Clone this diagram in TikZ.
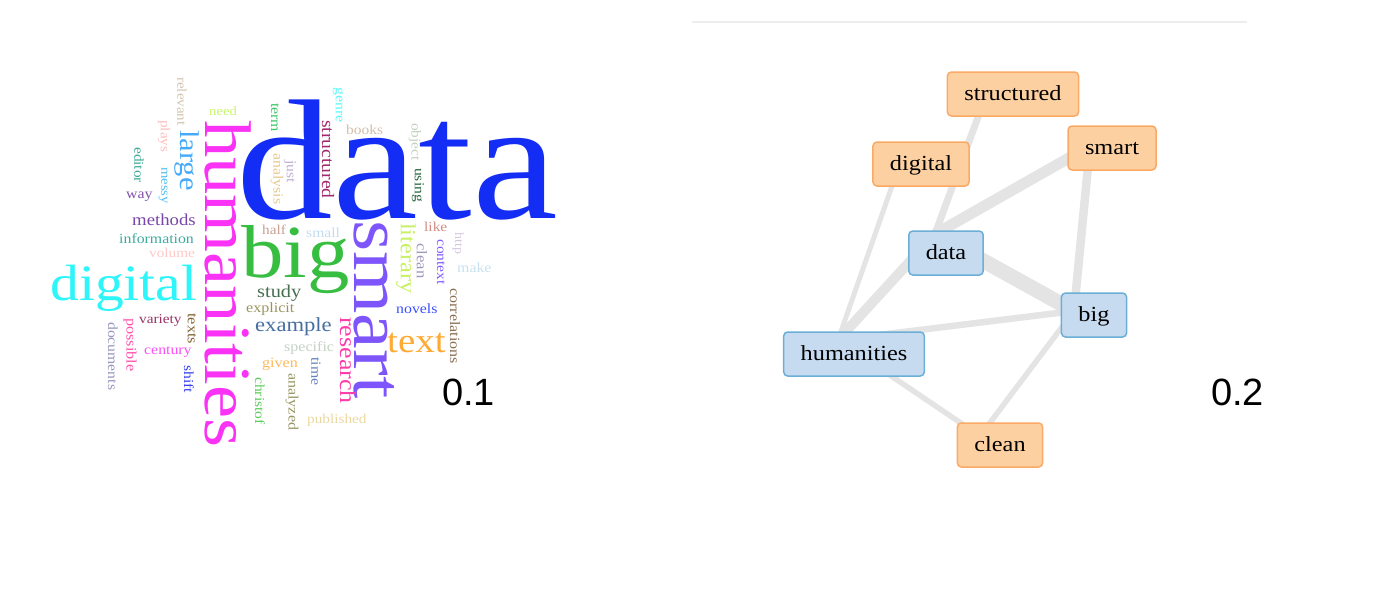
\documentclass[tikz,border=0pt]{standalone}
\usepackage{fontspec}
\setmainfont[FakeStretch=1.13]{Liberation Serif}
\newfontfamily\scorefont{Liberation Sans}
\usepackage{xcolor}
\usetikzlibrary{positioning, backgrounds}

% word cloud colours
\definecolor{cData}{RGB}{20,45,245}
\definecolor{cHuman}{RGB}{250,50,245}
\definecolor{cBig}{RGB}{55,190,65}
\definecolor{cSmart}{RGB}{125,85,250}
\definecolor{cDigital}{RGB}{45,245,250}
\definecolor{cLarge}{RGB}{70,170,250}
\definecolor{cText}{RGB}{255,170,50}
\definecolor{cResearch}{RGB}{255,60,170}
\definecolor{cLiterary}{RGB}{200,240,100}
\definecolor{cExample}{RGB}{70,110,160}
\definecolor{cStudy}{RGB}{70,110,80}
\definecolor{cExplicit}{RGB}{150,150,90}
\definecolor{cStructured}{RGB}{160,40,110}
\definecolor{cGenre}{RGB}{90,250,250}
\definecolor{cBooks}{RGB}{210,190,170}
\definecolor{cObject}{RGB}{195,210,190}
\definecolor{cUsing}{RGB}{40,100,60}
\definecolor{cLike}{RGB}{210,140,130}
\definecolor{cSmall}{RGB}{195,220,240}
\definecolor{cClean}{RGB}{160,150,185}
\definecolor{cHttp}{RGB}{215,200,225}
\definecolor{cContext}{RGB}{130,90,255}
\definecolor{cMake}{RGB}{200,225,240}
\definecolor{cNovels}{RGB}{60,80,255}
\definecolor{cCorrel}{RGB}{140,110,80}
\definecolor{cTime}{RGB}{100,130,190}
\definecolor{cSpecific}{RGB}{195,210,195}
\definecolor{cGiven}{RGB}{255,185,90}
\definecolor{cPublished}{RGB}{235,215,160}
\definecolor{cAnalyzed}{RGB}{150,150,100}
\definecolor{cChristof}{RGB}{90,205,90}
\definecolor{cHalf}{RGB}{200,160,145}
\definecolor{cAnalysis}{RGB}{230,200,140}
\definecolor{cJust}{RGB}{190,175,210}
\definecolor{cTerm}{RGB}{60,200,100}
\definecolor{cNeed}{RGB}{200,245,110}
\definecolor{cRelevant}{RGB}{210,195,175}
\definecolor{cPlays}{RGB}{255,190,190}
\definecolor{cEditor}{RGB}{60,170,150}
\definecolor{cMessy}{RGB}{80,190,240}
\definecolor{cWay}{RGB}{130,80,170}
\definecolor{cMethods}{RGB}{120,70,170}
\definecolor{cInfo}{RGB}{60,170,160}
\definecolor{cVolume}{RGB}{255,200,200}
\definecolor{cVariety}{RGB}{150,50,100}
\definecolor{cTexts}{RGB}{130,100,50}
\definecolor{cPossible}{RGB}{255,80,170}
\definecolor{cDocuments}{RGB}{150,150,190}
\definecolor{cCentury}{RGB}{250,80,250}
\definecolor{cShift}{RGB}{50,60,240}

% network colours
\definecolor{nodeOrange}{RGB}{253,208,162}
\definecolor{nodeOrangeLine}{RGB}{250,170,100}
\definecolor{nodeBlue}{RGB}{198,219,239}
\definecolor{nodeBlueLine}{RGB}{107,174,214}
\definecolor{linkGray}{RGB}{228,228,228}

\tikzset{
  word/.style={inner sep=0pt, font=\fontsize{#1}{#1}\selectfont},
  hword/.style={word=#1, anchor=base west},
  vword/.style={word=#1, anchor=west, rotate=-90},
  tnode/.style={draw, line width=1.5pt, rounded corners=4pt, minimum height=44pt,
    inner xsep=17pt, inner ysep=0pt, text height=16pt, text depth=3pt,
    font=\fontsize{21.5}{21.5}\selectfont},
  hot/.style={tnode, fill=nodeOrange, draw=nodeOrangeLine},
  cold/.style={tnode, fill=nodeBlue, draw=nodeBlueLine},
  link/.style={draw=linkGray},
  score/.style={anchor=base west, inner sep=0pt, font=\scorefont\fontsize{38}{38}\selectfont},
}

\begin{document}
\begin{tikzpicture}[x=1pt, y=-1pt]
  \useasboundingbox (0,0) rectangle (1388,610);

  % word cloud, horizontal words
  \node[hword=171, text=cData] (w-data) at (236,218) {data};
  \node[hword=75, text=cBig] (w-big) at (241,277) {big};
  \node[hword=51, text=cDigital] (w-digital) at (50,300) {digital};
  \node[hword=34.5, text=cText] (w-text) at (387,352) {text};
  \node[hword=20, text=cExample] (w-example) at (255,331) {example};
  \node[hword=18, text=cStudy] (w-study) at (257,297) {study};
  \node[hword=16.6, text=cMethods] (w-methods) at (132,225) {methods};
  \node[hword=13, text=cNeed] (w-need) at (209,115) {need};
  \node[hword=14, text=cWay] (w-way) at (126,198) {way};
  \node[hword=14, text=cInfo] (w-information) at (119,243) {information};
  \node[hword=13.5, text=cHalf] (w-half) at (262,234) {half};
  \node[hword=13.5, text=cVolume] (w-volume) at (149,257) {volume};
  \node[hword=14.2, text=cExplicit] (w-explicit) at (246,312) {explicit};
  \node[hword=13.5, text=cVariety] (w-variety) at (139,323) {variety};
  \node[hword=14, text=cCentury] (w-century) at (144,354) {century};
  \node[hword=14.2, text=cSpecific] (w-specific) at (284,351) {specific};
  \node[hword=14.2, text=cGiven] (w-given) at (262,367) {given};
  \node[hword=13.5, text=cPublished] (w-published) at (307,423) {published};
  \node[hword=14, text=cNovels] (w-novels) at (396,313) {novels};
  \node[hword=13.6, text=cLike] (w-like) at (424,231) {like};
  \node[hword=13.8, text=cSmall] (w-small) at (306,237) {small};
  \node[hword=14, text=cMake] (w-make) at (457,272) {make};
  \node[hword=13.7, text=cBooks] (w-books) at (346,134) {books};

  % word cloud, vertical words
  \node[vword=66, text=cHuman] (w-humanities) at (228,120) {humanities};
  \node[vword=71, text=cSmart] (w-smart) at (374,220) {smart};
  \node[vword=27, text=cLarge] (w-large) at (186.5,130) {large};
  \node[vword=23, text=cResearch] (w-research) at (348,317) {research};
  \node[vword=21.6, text=cLiterary] (w-literary) at (406,223) {literary};
  \node[vword=17.4, text=cStructured] (w-structured) at (328,120) {structured};
  \node[vword=13.3, text=cRelevant] (w-relevant) at (182,77) {relevant};
  \node[vword=14, text=cTerm] (w-term) at (275,103) {term};
  \node[vword=13.5, text=cPlays] (w-plays) at (164,120) {plays};
  \node[vword=13.6, text=cEditor] (w-editor) at (139,147) {editor};
  \node[vword=13, text=cMessy] (w-messy) at (163,167) {messy};
  \node[vword=14, text=cAnalysis] (w-analysis) at (277,153) {analysis};
  \node[vword=13.9, text=cJust] (w-just) at (290,160) {just};
  \node[vword=14, text=cGenre] (w-genre) at (338,87) {genre};
  \node[vword=13.6, text=cObject] (w-object) at (415,123) {object};
  \node[vword=13.8, text=cUsing] (w-using) at (418,168) {using};
  \node[vword=14.8, text=cClean] (w-clean) at (422,243) {clean};
  \node[vword=13.7, text=cContext] (w-context) at (441,239) {context};
  \node[vword=12.5, text=cHttp] (w-http) at (458,232) {http};
  \node[vword=14.2, text=cCorrel] (w-correlations) at (455,288) {correlations};
  \node[vword=14, text=cTime] (w-time) at (316,357) {time};
  \node[vword=13.8, text=cChristof] (w-christof) at (260,377) {christof};
  \node[vword=14.2, text=cAnalyzed] (w-analyzed) at (292,373) {analyzed};
  \node[vword=14.5, text=cTexts] (w-texts) at (192,313) {texts};
  \node[vword=14.4, text=cPossible] (w-possible) at (130,318) {possible};
  \node[vword=13.9, text=cDocuments] (w-documents) at (113,322) {documents};
  \node[vword=13.8, text=cShift] (w-shift) at (189,365) {shift};

  \node[score] (score-a) at (442,405) {0.1};

  % network
  \coordinate (sep-l) at (692,22);
  \coordinate (sep-r) at (1247,22);
  \draw[draw=black!7, line width=1.2pt] (sep-l) -- (sep-r);

  \node[hot] (structured) at (1013,94) {structured};
  \node[hot] (digital) at (921,164) {digital};
  \node[hot] (smart) at (1112,148) {smart};
  \node[cold] (data) at (946,253) {data};
  \node[cold] (big) at (1094,315) {big};
  \node[cold] (humanities) at (854,354) {humanities};
  \node[hot] (clean) at (1000,445) {clean};

  % points where the links meet
  \coordinate (structured-p) at ([shift={(-28,4)}]structured.center);
  \coordinate (digital-p) at ([shift={(-22,2)}]digital.center);
  \coordinate (smart-p) at ([shift={(-22,-2)}]smart.center);
  \coordinate (data-p) at ([shift={(-11,-19)}]data.center);
  \coordinate (big-p) at ([shift={(-20,-4)}]big.center);
  \coordinate (humanities-p) at ([shift={(-16,-14)}]humanities.center);
  \coordinate (clean-p) at ([shift={(-20,-9)}]clean.center);

  \begin{pgfonlayer}{background}
    \draw[link, line width=15pt] (data-p) -- (big-p);
    \draw[link, line width=11pt] (data-p) -- (smart-p);
    \draw[link, line width=10pt] (data-p) -- (humanities-p);
    \draw[link, line width=8.5pt] (smart-p) -- (big-p);
    \draw[link, line width=7pt] (structured-p) -- (data-p);
    \draw[link, line width=6.5pt] (humanities-p) -- (big-p);
    \draw[link, line width=5pt] (digital-p) -- (humanities-p);
    \draw[link, line width=5.5pt] (humanities-p) -- (clean-p);
    \draw[link, line width=5.5pt] (big-p) -- (clean-p);
  \end{pgfonlayer}

  \node[score] (score-b) at (1211,405) {0.2};
\end{tikzpicture}
\end{document}
